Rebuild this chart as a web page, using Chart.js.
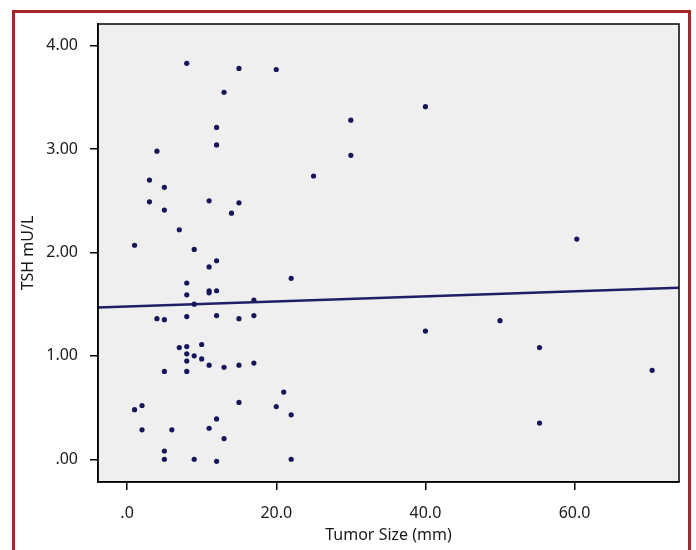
<!DOCTYPE html>
<html>
<head>
<meta charset="utf-8">
<script src="https://cdn.jsdelivr.net/npm/chart.js@4"></script>
<style>
  html, body { margin: 0; padding: 0; background: #fff; overflow: hidden; }
  #frame {
    position: absolute; left: 12px; top: 10px; width: 679px; height: 600px;
    box-sizing: border-box; border: 3px solid #a3262b;
  }
  #chart { position: absolute; left: 0; top: 0; }
</style>
</head>
<body>
<div id="frame"></div>
<canvas id="chart" width="696" height="550"></canvas>
<script>
// Tumor size (mm) and TSH (mU/L)
const tumorSize = [
  8, 15, 20, 13, 40, 30, 12, 12, 4, 30,
  25, 3, 5, 3, 11, 15, 5, 14, 7, 1,
  60.3, 9, 12, 11, 22, 8, 8, 11, 11, 12,
  17, 9, 8, 12, 17, 15, 4, 5, 40, 50,
  55.3, 7, 8, 10, 8, 9, 8, 10, 11, 13,
  15, 17, 5, 8, 70.4, 21, 15, 20, 2, 1,
  22, 12, 55.3, 2, 6, 11, 13, 5, 5, 9,
  12, 22
];
const tsh = [
  3.83, 3.78, 3.77, 3.55, 3.41, 3.28, 3.21, 3.04, 2.98, 2.94,
  2.74, 2.70, 2.63, 2.49, 2.50, 2.48, 2.41, 2.38, 2.22, 2.07,
  2.13, 2.03, 1.92, 1.86, 1.75, 1.705, 1.59, 1.63, 1.61, 1.63,
  1.54, 1.50, 1.38, 1.39, 1.39, 1.36, 1.36, 1.35, 1.24, 1.34,
  1.08, 1.08, 1.09, 1.11, 1.02, 1.00, 0.95, 0.97, 0.91, 0.89,
  0.91, 0.93, 0.85, 0.85, 0.86, 0.65, 0.55, 0.51, 0.52, 0.48,
  0.43, 0.39, 0.35, 0.285, 0.285, 0.30, 0.20, 0.08, 0.00, 0.00,
  -0.02, 0.00
];

// fit line end points
const fitX = [-3.9, 74];
const fitY = [1.468, 1.658];

const xTickValues = [0, 20, 40, 60];
const xTickLabels = ['.0', '20.0', '40.0', '60.0'];
const yTickValues = [0, 1, 2, 3, 4];
const yTickLabels = ['.00', '1.00', '2.00', '3.00', '4.00'];

const navy = '#16165a';
const textColor = '#1a1a1a';
const font = { family: "'Noto Sans', 'Open Sans', sans-serif", size: 16 };

const plotFrame = {
  id: 'plotFrame',
  beforeDraw(chart) {
    const { ctx, chartArea: a } = chart;
    ctx.save();
    ctx.fillStyle = '#efefef';
    ctx.fillRect(a.left, a.top, a.right - a.left, a.bottom - a.top);
    ctx.restore();
  },
  afterDraw(chart) {
    const { ctx, chartArea: a } = chart;
    ctx.save();
    ctx.strokeStyle = '#000';
    ctx.lineWidth = 1.5;
    ctx.strokeRect(a.left, a.top, a.right - a.left, a.bottom - a.top);
    ctx.restore();
  }
};

new Chart(document.getElementById('chart').getContext('2d'), {
  type: 'scatter',
  data: {
    datasets: [
      {
        data: tumorSize.map((x, i) => ({ x: x, y: tsh[i] })),
        backgroundColor: navy,
        borderColor: navy,
        pointRadius: 2.6,
        borderWidth: 0
      },
      {
        data: fitX.map((x, i) => ({ x: x, y: fitY[i] })),
        showLine: true,
        borderColor: '#1f1f66',
        borderWidth: 2.5,
        pointRadius: 0
      }
    ]
  },
  options: {
    responsive: false,
    animation: false,
    layout: { padding: { top: 24, right: 17, left: 0, bottom: 0 } },
    plugins: { legend: { display: false }, tooltip: { enabled: false } },
    scales: {
      x: {
        type: 'linear',
        min: -3.9,
        max: 74,
        afterFit: s => { s.height = 68; },
        afterBuildTicks: s => { s.ticks = xTickValues.map(v => ({ value: v })); },
        ticks: {
          callback: v => xTickLabels[xTickValues.indexOf(v)],
          font: font, color: textColor, padding: 14,
          maxRotation: 0, autoSkip: false
        },
        grid: { drawOnChartArea: false, drawTicks: true, tickLength: 8, color: '#000', lineWidth: 1.5 },
        border: { display: true, color: '#000', width: 1.5 },
        title: { display: true, text: 'Tumor Size (mm)', font: font, color: textColor, padding: { top: 0, bottom: 5 } }
      },
      y: {
        type: 'linear',
        min: -0.22,
        max: 4.21,
        afterFit: s => { s.width = 98; },
        afterBuildTicks: s => { s.ticks = yTickValues.map(v => ({ value: v })); },
        ticks: {
          callback: v => yTickLabels[yTickValues.indexOf(v)],
          font: font, color: textColor, padding: 12,
          autoSkip: false
        },
        grid: { drawOnChartArea: false, drawTicks: true, tickLength: 8, color: '#000', lineWidth: 1.5 },
        border: { display: true, color: '#000', width: 1.5 },
        title: { display: true, text: 'TSH mU/L', font: font, color: textColor, padding: { top: 19, bottom: 0 } }
      }
    }
  },
  plugins: [plotFrame]
});
</script>
</body>
</html>
